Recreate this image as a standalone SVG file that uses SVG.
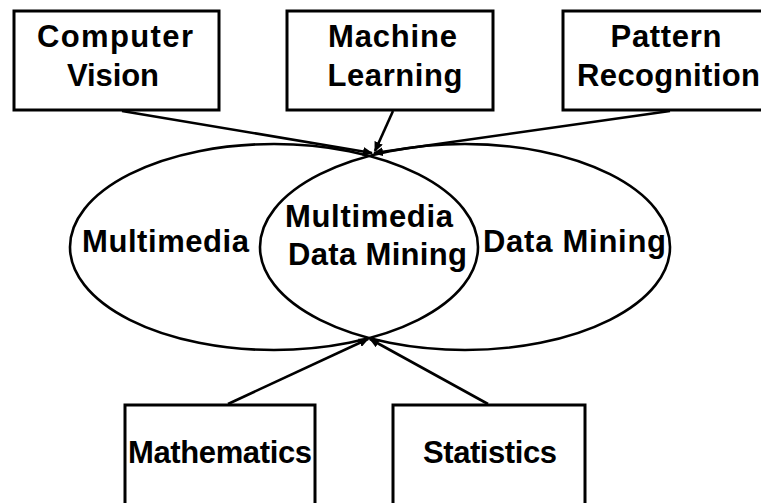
<svg xmlns="http://www.w3.org/2000/svg" width="761" height="503" viewBox="0 0 761 503">
  <style>
    .box { fill: #ffffff; stroke: #000000; stroke-width: 3; }
    .set { fill: none; stroke: #000000; stroke-width: 2.6; }
    .link { fill: none; stroke: #000000; stroke-width: 2.6; }
    .label { font-family: "Liberation Sans", Arial, Helvetica, sans-serif; font-weight: bold; font-size: 31px; fill: #000000; text-anchor: middle; }
  </style>
  <defs>
    <marker id="head" markerUnits="userSpaceOnUse" markerWidth="10" markerHeight="9" refX="9" refY="4.5" orient="auto">
      <path d="M0,0 L10,4.5 L0,9 z" fill="#000000"/>
    </marker>
  </defs>
  <rect width="761" height="503" fill="#ffffff"/>

  <!-- overlapping sets -->
  <g id="multimedia">
    <ellipse class="set" cx="274" cy="247" rx="204" ry="103"/>
    <text class="label" x="165.5" y="252" textLength="167" lengthAdjust="spacing">Multimedia</text>
  </g>
  <g id="data-mining">
    <ellipse class="set" cx="465" cy="247" rx="205" ry="103"/>
    <text class="label" x="574.5" y="252" textLength="183" lengthAdjust="spacing">Data Mining</text>
  </g>
  <g id="multimedia-data-mining">
    <text class="label" x="369" y="227" textLength="168" lengthAdjust="spacing">Multimedia</text>
    <text class="label" x="377.5" y="265" textLength="179" lengthAdjust="spacing">Data Mining</text>
  </g>

  <!-- source fields -->
  <g id="computer-vision">
    <rect class="box" x="14" y="11" width="205" height="99"/>
    <text class="label" x="115" y="47" textLength="156" lengthAdjust="spacing">Computer</text>
    <text class="label" x="113" y="86" textLength="92" lengthAdjust="spacing">Vision</text>
  </g>
  <g id="machine-learning">
    <rect class="box" x="287" y="11" width="206" height="99"/>
    <text class="label" x="392.5" y="47" textLength="129" lengthAdjust="spacing">Machine</text>
    <text class="label" x="395" y="86" textLength="135" lengthAdjust="spacing">Learning</text>
  </g>
  <g id="pattern-recognition">
    <rect class="box" x="563" y="11" width="210" height="99"/>
    <text class="label" x="666" y="47" textLength="111" lengthAdjust="spacing">Pattern</text>
    <text class="label" x="668.5" y="86" textLength="183" lengthAdjust="spacing">Recognition</text>
  </g>
  <g id="mathematics">
    <rect class="box" x="125" y="405" width="190" height="110"/>
    <text class="label" x="220" y="463" textLength="184" lengthAdjust="spacing">Mathematics</text>
  </g>
  <g id="statistics">
    <rect class="box" x="393" y="405" width="192" height="110"/>
    <text class="label" x="490" y="463" textLength="134" lengthAdjust="spacing">Statistics</text>
  </g>

  <!-- connectors -->
  <g id="connectors">
    <line class="link" x1="122" y1="111" x2="372" y2="153" marker-end="url(#head)"/>
    <line class="link" x1="393" y1="111" x2="375" y2="151" marker-end="url(#head)"/>
    <line class="link" x1="670" y1="111" x2="374" y2="153" marker-end="url(#head)"/>
    <line class="link" x1="228" y1="404" x2="368" y2="339" marker-end="url(#head)"/>
    <line class="link" x1="488" y1="404" x2="370" y2="339" marker-end="url(#head)"/>
  </g>
</svg>
